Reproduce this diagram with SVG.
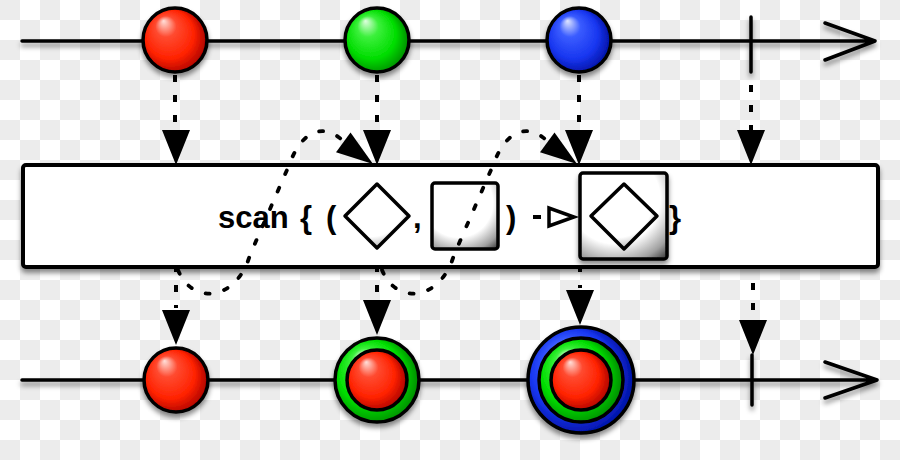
<svg xmlns="http://www.w3.org/2000/svg" xmlns:xlink="http://www.w3.org/1999/xlink" width="900" height="460" viewBox="0 0 900 460">
<defs>
<style>
.tl{fill:none;stroke:#000;stroke-width:3.5;stroke-linecap:round;stroke-linejoin:round}
.dash{fill:none;stroke:#000;stroke-width:4;stroke-dasharray:7 13}
.curve{fill:none;stroke:#000;stroke-width:3.8;stroke-dasharray:4 15;stroke-linecap:round}
.head{fill:#000}
.mb{stroke:#000;stroke-width:3.5}
.lbl{font-family:"Liberation Sans",Arial,sans-serif;font-weight:bold;font-size:31px;fill:#000}
.shape{stroke:#000;stroke-width:3.5;stroke-linejoin:round}
</style>
<pattern id="checker" width="40" height="40" patternUnits="userSpaceOnUse">
<rect width="40" height="40" fill="#ffffff"/>
<rect width="20" height="20" fill="#ececec"/>
<rect x="20" y="20" width="20" height="20" fill="#ececec"/>
</pattern>
<filter id="sh" x="-20%" y="-20%" width="140%" height="160%">
<feDropShadow dx="0" dy="4" stdDeviation="2.5" flood-color="#000" flood-opacity="0.45"/>
</filter>
<radialGradient id="gRed" cx="0.45" cy="0.5" r="0.55" fx="0.32" fy="0.2">
<stop offset="0" stop-color="#ffe0da"/>
<stop offset="0.3" stop-color="#ff4a30"/>
<stop offset="0.7" stop-color="#ff2200"/>
<stop offset="1" stop-color="#a80000"/>
</radialGradient>
<radialGradient id="gGreen" cx="0.45" cy="0.5" r="0.55" fx="0.32" fy="0.2">
<stop offset="0" stop-color="#e0ffe0"/>
<stop offset="0.3" stop-color="#3cf03c"/>
<stop offset="0.7" stop-color="#00dd00"/>
<stop offset="1" stop-color="#008a00"/>
</radialGradient>
<radialGradient id="gBlue" cx="0.45" cy="0.5" r="0.55" fx="0.32" fy="0.2">
<stop offset="0" stop-color="#e0e6ff"/>
<stop offset="0.3" stop-color="#3a5cff"/>
<stop offset="0.7" stop-color="#1836f0"/>
<stop offset="1" stop-color="#0010a0"/>
</radialGradient>
<radialGradient id="gShape" cx="0.4" cy="0.3" r="0.95">
<stop offset="0" stop-color="#ffffff"/>
<stop offset="0.55" stop-color="#ffffff"/>
<stop offset="0.8" stop-color="#a0a0a0"/>
<stop offset="1" stop-color="#1a1a1a"/>
</radialGradient>
<path id="ah" d="M0,0 L-14,-35 L14,-35 Z"/>
</defs>

<rect width="900" height="460" fill="url(#checker)"/>

<g id="top-timeline" filter="url(#sh)">
<path class="tl" d="M22,41 H873 M825,23 L875,41 L825,60"/>
<path class="tl" d="M751,17 V72"/>
</g>
<g id="bottom-timeline" filter="url(#sh)">
<path class="tl" d="M22,380 H875 M825,362 L877,380 L825,398"/>
<path class="tl" d="M752,355 V405"/>
</g>

<g id="scan-box">
<rect x="23" y="165" width="855" height="102" rx="3" fill="#fff" stroke="#000" stroke-width="4" filter="url(#sh)"/>
<text class="lbl" y="228"><tspan x="218">scan</tspan><tspan x="300">{</tspan><tspan x="326">(</tspan><tspan x="413">,</tspan><tspan x="506">)</tspan><tspan x="669">}</tspan></text>
<path class="shape" fill="url(#gShape)" d="M377,184 L409,216 L377,248 L345,216 Z"/>
<rect class="shape" fill="url(#gShape)" x="432" y="183" width="66" height="66" rx="3"/>
<path fill="none" stroke="#000" stroke-width="4" d="M533,217 H541"/>
<path fill="#fff" stroke="#000" stroke-width="3.5" stroke-linejoin="miter" d="M549,208 L549,226 L574,217 Z"/>
<rect class="shape" fill="url(#gShape)" x="580" y="173" width="87" height="86" rx="3" filter="url(#sh)"/>
<path class="shape" fill="url(#gShape)" d="M624,184 L657,216 L624,249 L591,216 Z"/>
</g>

<g id="connectors">
<path class="dash" d="M175,75 V132"/>
<use href="#ah" class="head" transform="translate(176,165)"/>
<path class="dash" d="M377,75 V132"/>
<use href="#ah" class="head" transform="translate(377,165)"/>
<path class="dash" d="M579,75 V132"/>
<use href="#ah" class="head" transform="translate(579,165)"/>
<path class="dash" d="M751,85 V132"/>
<use href="#ah" class="head" transform="translate(751,165)"/>

<path class="dash" d="M176,265 V308"/>
<use href="#ah" class="head" transform="translate(176,345)"/>
<path class="dash" d="M377,265 V298"/>
<use href="#ah" class="head" transform="translate(377,335)"/>
<path class="dash" d="M580,265 V288"/>
<use href="#ah" class="head" transform="translate(580,325)"/>
<path class="dash" d="M753,283 V318"/>
<use href="#ah" class="head" transform="translate(753,355)"/>

<path class="curve" d="M178,270 C192,305 236,302 250,255 L290,163 C302,130 325,122 344,142"/>
<use href="#ah" class="head" transform="translate(373,164) rotate(-54) scale(0.88,1.05)"/>
<path class="curve" d="M382,270 C396,305 440,302 454,255 L494,163 C506,130 529,122 548,142"/>
<use href="#ah" class="head" transform="translate(577,164) rotate(-54) scale(0.88,1.05)"/>
</g>

<g id="in-red" filter="url(#sh)"><circle class="mb" cx="175" cy="40" r="32" fill="url(#gRed)"/></g>
<g id="in-green" filter="url(#sh)"><circle class="mb" cx="377" cy="40" r="32" fill="url(#gGreen)"/></g>
<g id="in-blue" filter="url(#sh)"><circle class="mb" cx="579" cy="40" r="32" fill="url(#gBlue)"/></g>

<g id="out-1" filter="url(#sh)"><circle class="mb" cx="176" cy="380" r="32" fill="url(#gRed)"/></g>
<g id="out-2" filter="url(#sh)">
<circle class="mb" cx="377" cy="380" r="42" fill="url(#gGreen)"/>
<circle class="mb" cx="377" cy="380" r="30" fill="url(#gRed)"/>
</g>
<g id="out-3" filter="url(#sh)">
<circle class="mb" cx="581" cy="380" r="53" fill="url(#gBlue)"/>
<circle class="mb" cx="581" cy="380" r="42" fill="url(#gGreen)"/>
<circle class="mb" cx="581" cy="380" r="30" fill="url(#gRed)"/>
</g>
</svg>
